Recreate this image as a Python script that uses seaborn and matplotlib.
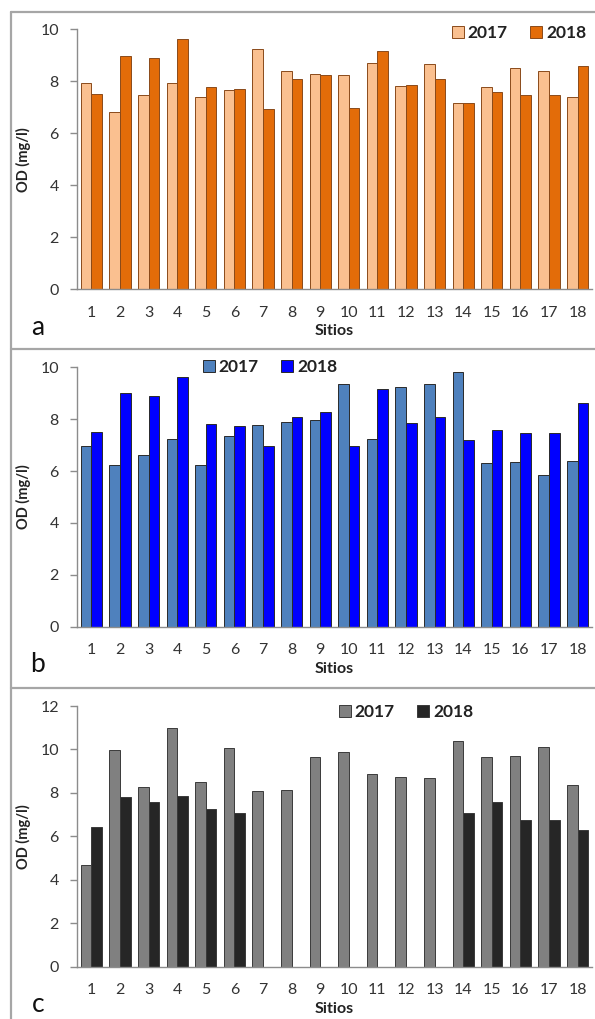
import matplotlib
matplotlib.use('Agg')
import matplotlib.pyplot as plt
from matplotlib.lines import Line2D
import numpy as np
import pandas as pd
import seaborn as sns

sitios = list(range(1, 19))
years = ['2017', '2018']

od_a_2017 = [7.92, 6.83, 7.47, 7.92, 7.40, 7.67, 9.23, 8.40, 8.28, 8.26, 8.70, 7.82, 8.67, 7.18, 7.77, 8.51, 8.40, 7.41]
od_a_2018 = [7.51, 8.97, 8.88, 9.62, 7.79, 7.72, 6.95, 8.09, 8.24, 6.98, 9.17, 7.86, 8.08, 7.18, 7.60, 7.47, 7.47, 8.59]

od_b_2017 = [6.97, 6.23, 6.61, 7.22, 6.25, 7.37, 7.78, 7.88, 7.96, 9.36, 7.22, 9.23, 9.37, 9.82, 6.32, 6.35, 5.84, 6.39]
od_b_2018 = [7.52, 9.00, 8.88, 9.61, 7.81, 7.72, 6.97, 8.10, 8.27, 6.97, 9.16, 7.87, 8.07, 7.19, 7.60, 7.48, 7.48, 8.61]

nan = np.nan
od_c_2017 = [4.66, 9.97, 8.29, 11.00, 8.50, 10.05, 8.07, 8.15, 9.64, 9.87, 8.85, 8.75, 8.69, 10.37, 9.67, 9.71, 10.10, 8.36]
od_c_2018 = [6.41, 7.83, 7.58, 7.86, 7.26, 7.09, nan, nan, nan, nan, nan, nan, nan, 7.06, 7.60, 6.75, 6.75, 6.29]

sns.set_style('white')
plt.rcParams['font.family'] = ['Lato', 'DejaVu Sans']

W, H = 595, 1019
fig = plt.figure(figsize=(W / 100, H / 100), dpi=100)


def long_df(v17, v18):
    return pd.DataFrame({
        'Sitio': [str(s) for s in sitios] * 2,
        'OD': list(v17) + list(v18),
        'Año': ['2017'] * len(sitios) + ['2018'] * len(sitios),
    })


panels = [
    # values, colours, edge, ylim, axes top/bottom px, legend pos px, letter
    (od_a_2017, od_a_2018, ['#FAC090', '#E36C09'], '#8a4a1a', 10, 29.3, 289.5, (452, 33), 'a'),
    (od_b_2017, od_b_2018, ['#4F81BD', '#0000FF'], '#2a2a2a', 10, 367.3, 626.7, (203, 367), 'b'),
    (od_c_2017, od_c_2018, ['#808080', '#262626'], '#3a3a3a', 12, 706.0, 966.7, (339, 712), 'c'),
]

for v17, v18, cols, edge, ymax, top_px, bot_px, leg_px, letter in panels:
    ax = fig.add_axes([77 / W, 1 - bot_px / H, (592 - 77) / W, (bot_px - top_px) / H])
    df = long_df(v17, v18)
    sns.barplot(data=df, x='Sitio', y='OD', hue='Año', hue_order=years,
                palette=dict(zip(years, cols)), width=0.74,
                edgecolor=edge, linewidth=0.7, saturation=1, ax=ax)
    ax.set_xlim(-0.5, len(sitios) - 0.5)
    ax.set_ylim(0, ymax)
    ax.set_yticks(np.arange(0, ymax + 1, 2))
    for s in ['top', 'right']:
        ax.spines[s].set_visible(False)
    for s in ['left', 'bottom']:
        ax.spines[s].set_color('#8c8c8c')
        ax.spines[s].set_linewidth(1)
    ax.set_xticks(np.arange(-0.5, len(sitios), 1), minor=True)
    ax.tick_params(axis='x', which='major', length=0, pad=12, labelsize=11.5, colors='#333333')
    ax.tick_params(axis='x', which='minor', length=4, width=1, color='#8c8c8c', direction='out')
    ax.tick_params(axis='y', length=5, width=1, color='#8c8c8c', pad=8, labelsize=11.5,
                   labelcolor='#333333', left=True)
    ax.set_xlabel('Sitios', fontsize=11.5, fontweight='bold', labelpad=3, color='#222222')
    ax.set_ylabel('OD (mg/l)', fontsize=10.5, fontweight='bold', labelpad=7, color='#222222')

    leg = ax.legend(ncol=2, frameon=False, loc='center left',
                    bbox_to_anchor=(leg_px[0] / W, 1 - leg_px[1] / H),
                    bbox_transform=fig.transFigure, borderaxespad=0, borderpad=0,
                    handlelength=0.7, handleheight=0.7, handletextpad=0.2,
                    columnspacing=1.3, prop={'size': 12.5, 'weight': 'bold'})
    for t in leg.get_texts():
        t.set_color('#222222')

    fig.text(38 / W, 1 - (bot_px + 38) / H, letter, fontsize=19, ha='center', va='center',
             color='#111111')

# panel frames
frame_kw = dict(color='#a6a6a6', linewidth=1.6, transform=fig.transFigure)
fig.add_artist(Line2D([11 / W, 11 / W], [1 - 12 / H, 0], **frame_kw))
for y in [12, 349, 688]:
    fig.add_artist(Line2D([11 / W, 1], [1 - y / H, 1 - y / H], **frame_kw))

fig.savefig('out.png', dpi=100)
